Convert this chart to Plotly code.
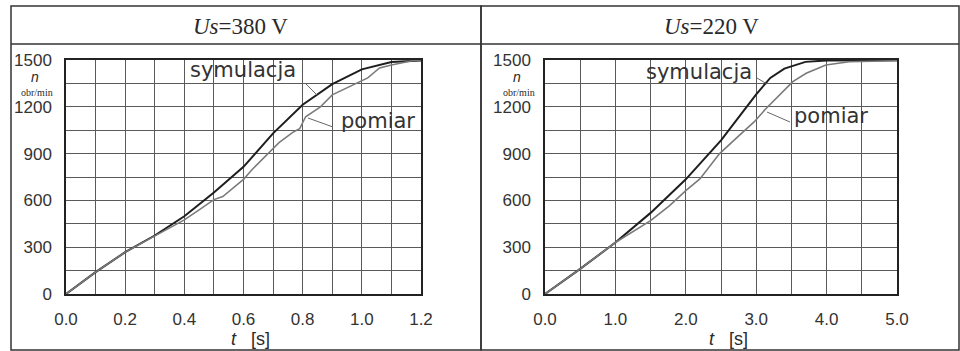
import plotly.graph_objects as go

# ---------------- data ----------------
# Us = 380 V
t380_sim = [0, 0.1, 0.2, 0.3, 0.4, 0.5, 0.6, 0.65, 0.7, 0.8, 0.9, 1.0, 1.1, 1.2]
n380_sim = [0, 140, 268, 375, 498, 650, 815, 925, 1030, 1213, 1345, 1440, 1487, 1497]
t380_pom = [0, 0.1, 0.2, 0.3, 0.35, 0.4, 0.45, 0.5, 0.53, 0.6, 0.63, 0.67, 0.72, 0.77,
            0.79, 0.81, 0.86, 0.9, 0.95, 1.02, 1.06, 1.1, 1.17, 1.2]
n380_pom = [0, 140, 268, 370, 420, 475, 540, 605, 625, 735, 800, 874, 970, 1040,
            1060, 1136, 1200, 1276, 1321, 1385, 1449, 1468, 1495, 1500]

# Us = 220 V
t220_sim = [0, 0.5, 1.0, 1.5, 2.0, 2.5, 3.0, 3.2, 3.4, 3.7, 4.0, 4.5, 5.0]
n220_sim = [0, 161, 330, 520, 735, 985, 1280, 1385, 1445, 1488, 1497, 1498, 1498]
t220_pom = [0, 0.5, 1.0, 1.5, 1.77, 2.0, 2.2, 2.48, 2.76, 2.97, 3.14, 3.33, 3.52,
            3.71, 3.99, 4.32, 4.7, 5.0]
n220_pom = [0, 161, 330, 470, 567, 663, 738, 900, 1017, 1103, 1189, 1275, 1361,
            1415, 1468, 1489, 1493, 1495]

titles = ["<i>Us</i>=380 V", "<i>Us</i>=220 V"]
label_sim = "symulacja"
label_pom = "pomiar"

W, H = 960, 351


def px(x):
    return x / W


def py(y):
    return 1 - y / H


SIM_COLOR = "#1e1e1e"
POM_COLOR = "#7a7a7a"
GRID = "#5a5a5a"
TXT = "#2a2a2a"

fig = go.Figure()
fig.add_trace(go.Scatter(x=t380_sim, y=n380_sim, mode="lines", line=dict(color=SIM_COLOR, width=2),
                         xaxis="x", yaxis="y", showlegend=False))
fig.add_trace(go.Scatter(x=t380_pom, y=n380_pom, mode="lines", line=dict(color=POM_COLOR, width=1.5),
                         xaxis="x", yaxis="y", showlegend=False))
fig.add_trace(go.Scatter(x=t220_sim, y=n220_sim, mode="lines", line=dict(color=SIM_COLOR, width=2),
                         xaxis="x2", yaxis="y2", showlegend=False))
fig.add_trace(go.Scatter(x=t220_pom, y=n220_pom, mode="lines", line=dict(color=POM_COLOR, width=1.6),
                         xaxis="x2", yaxis="y2", showlegend=False))

tickfont = dict(family="Liberation Sans, Arial, sans-serif", size=17, color="#333")
common_x = dict(showline=True, mirror=True, linecolor="#222", linewidth=1.5, showgrid=True,
                gridcolor=GRID, gridwidth=1, zeroline=False, ticks="", tickfont=tickfont,
                tickformat=".1f", ticklabelstandoff=9, automargin=False)
common_y = dict(showline=True, mirror=True, linecolor="#222", linewidth=1.5, showgrid=True,
                gridcolor=GRID, gridwidth=1, zeroline=False, ticks="", tickfont=tickfont,
                range=[0, 1500], dtick=300, tick0=0, ticklabelstandoff=9, automargin=False,
                minor=dict(dtick=150, showgrid=True, gridcolor=GRID, gridwidth=1))

ydom = [py(294), py(60)]
fig.update_layout(
    width=W, height=H, margin=dict(l=0, r=0, t=0, b=0),
    paper_bgcolor="white", plot_bgcolor="white",
    xaxis=dict(domain=[px(66), px(421)], range=[0, 1.2], dtick=0.2, tick0=0,
               minor=dict(dtick=0.1, showgrid=True, gridcolor=GRID, gridwidth=1), anchor="y", **common_x),
    yaxis=dict(domain=ydom, anchor="x", **common_y),
    xaxis2=dict(domain=[px(545), px(897)], range=[0, 5.0], dtick=1.0, tick0=0,
                minor=dict(dtick=0.5, showgrid=True, gridcolor=GRID, gridwidth=1), anchor="y2", **common_x),
    yaxis2=dict(domain=ydom, anchor="x2", **common_y),
)

ann = []
serif = dict(family="Liberation Serif, Times New Roman, serif", size=23, color=TXT)
lab = dict(family="DejaVu Sans, sans-serif", size=21, color="#333")
# panel titles
ann.append(dict(x=px(240), y=py(26), text=titles[0], font=serif))
ann.append(dict(x=px(711), y=py(26), text=titles[1], font=serif))
# axis labels
for cx, nx in [(250, 35), (728, 517)]:
    ann.append(dict(x=px(cx), y=py(339), text="<i>t</i>   [s]",
                    font=dict(family="Liberation Sans, Arial, sans-serif", size=18, color=TXT)))
    ann.append(dict(x=px(nx), y=py(77), text="<i>n</i>",
                    font=dict(family="Liberation Sans, Arial, sans-serif", size=14, color=TXT)))
    ann.append(dict(x=px(nx + 2), y=py(93), text="obr/min",
                    font=dict(family="Liberation Serif, serif", size=10, color=TXT)))
# curve labels
ann.append(dict(x=px(243), y=py(70), text=label_sim, font=lab))
ann.append(dict(x=px(378), y=py(121), text=label_pom, font=lab))
ann.append(dict(x=px(699), y=py(72), text=label_sim, font=lab))
ann.append(dict(x=px(831), y=py(116), text=label_pom, font=lab))
for a in ann:
    a.update(xref="paper", yref="paper", showarrow=False, xanchor="center", yanchor="middle")
fig.update_layout(annotations=ann)

shapes = []
box = dict(color="#333", width=1.5)
shapes.append(dict(type="rect", x0=px(11), x1=px(481), y0=py(350), y1=py(6), line=box))
shapes.append(dict(type="rect", x0=px(481), x1=px(959), y0=py(350), y1=py(6), line=box))
shapes.append(dict(type="line", x0=px(11), x1=px(959), y0=py(44), y1=py(44), line=box))
lead = dict(color="#666", width=1)
for (x0, y0, x1, y1) in [(305, 83, 317, 95), (333, 127, 308, 118),
                         (757, 78, 767, 84), (790, 122, 767, 112)]:
    shapes.append(dict(type="line", x0=px(x0), y0=py(y0), x1=px(x1), y1=py(y1), line=lead))
for s in shapes:
    s.update(xref="paper", yref="paper", layer="above")
fig.update_layout(shapes=shapes)

fig.write_html("out.html")
